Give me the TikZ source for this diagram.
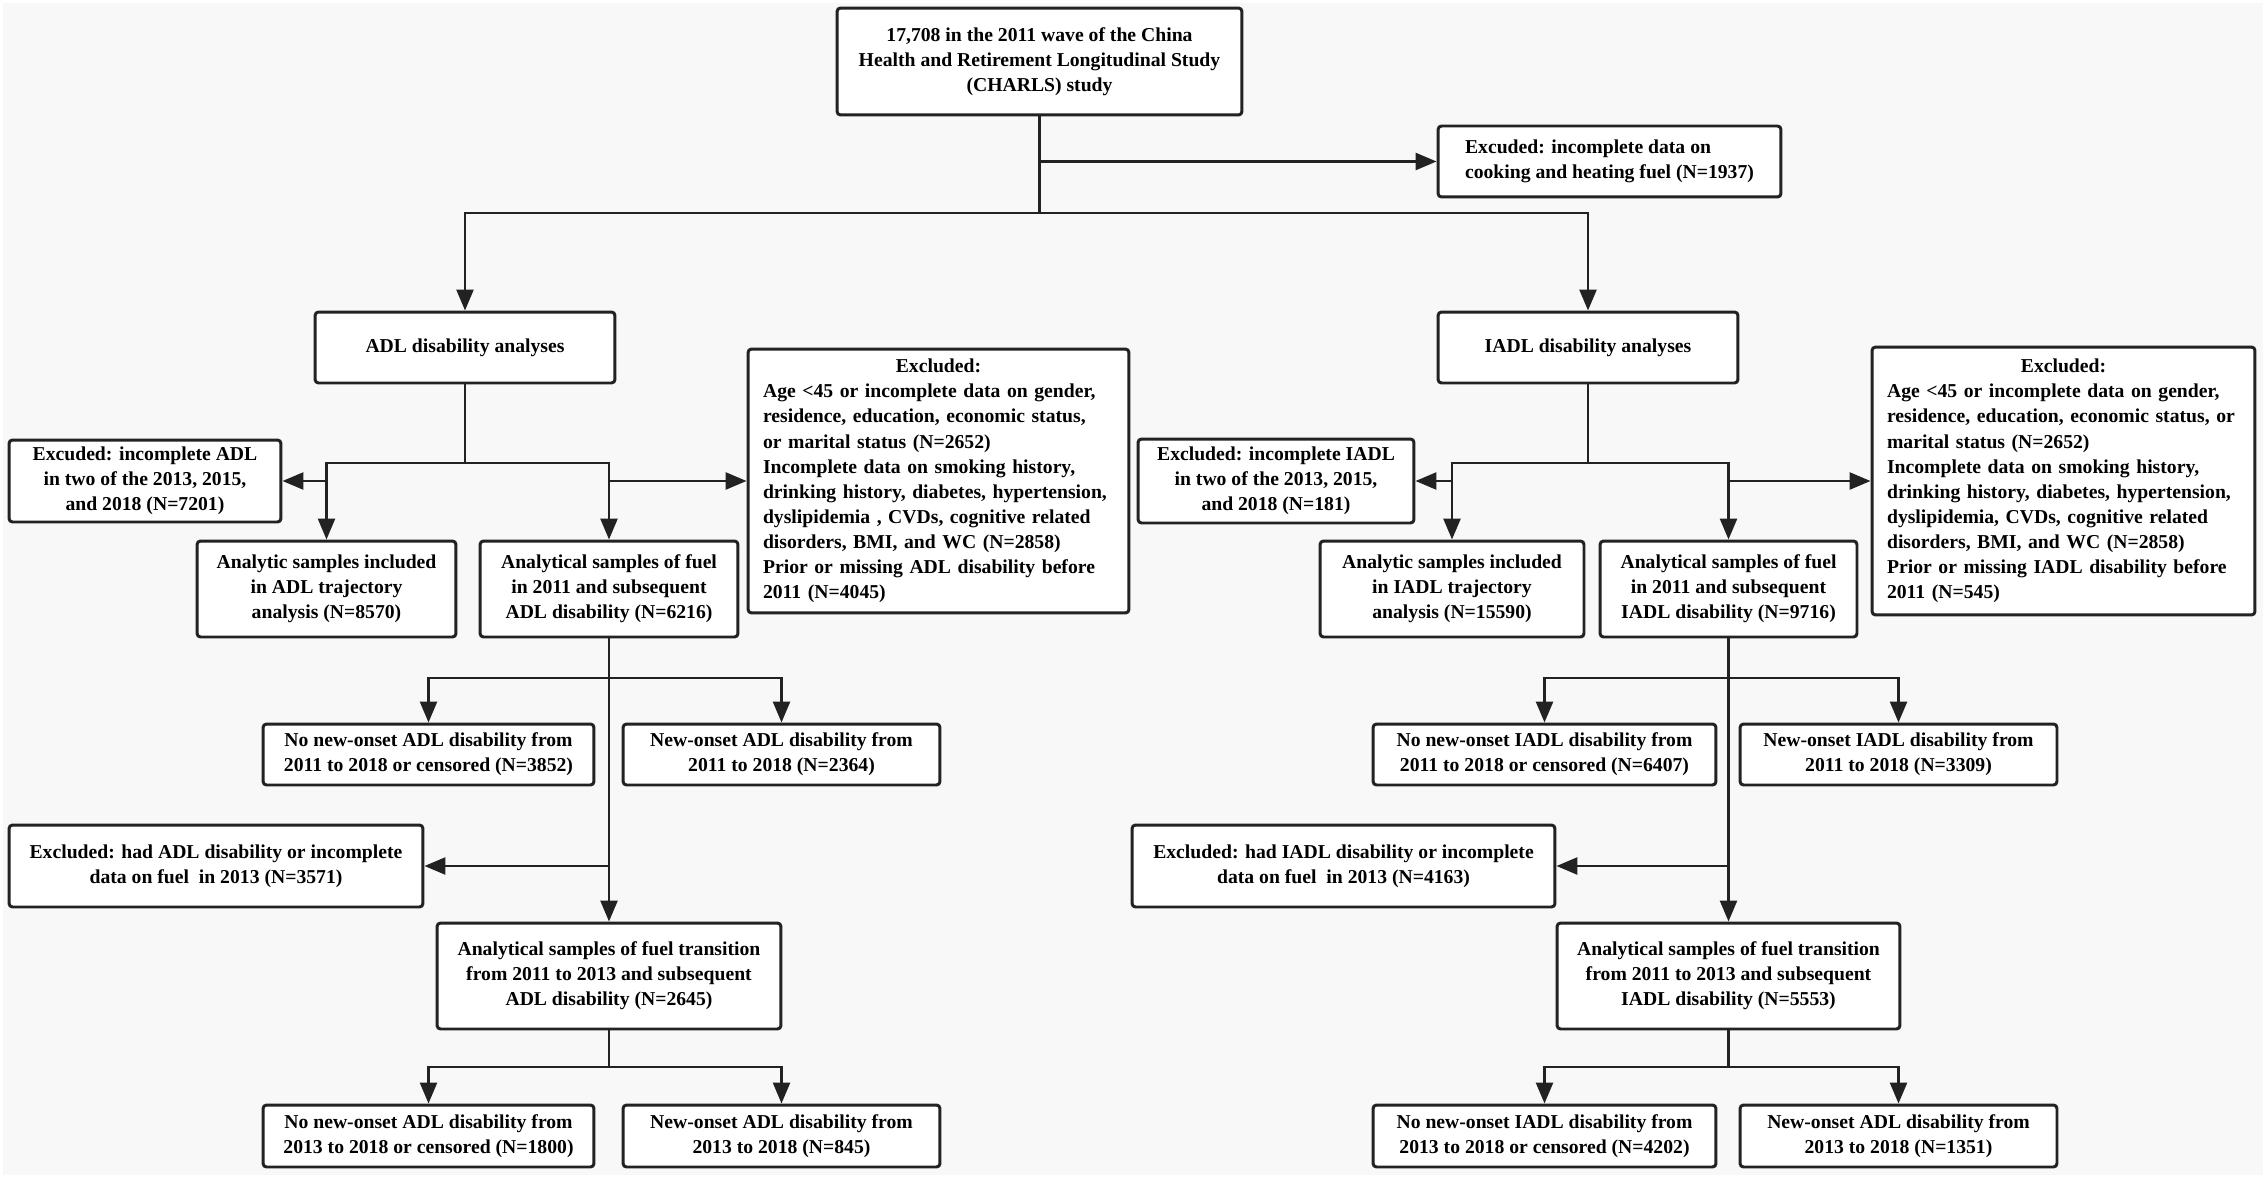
\documentclass[tikz,border=0pt]{standalone}
\usepackage{fontspec}
\setmainfont{Liberation Serif}
\usetikzlibrary{arrows.meta}
\definecolor{linegray}{HTML}{222222}
\definecolor{bggray}{HTML}{F8F8F8}

\begin{document}
\begin{tikzpicture}[x=0.02cm, y=-0.02cm,
    box/.style={rectangle, draw=linegray, fill=white, line width=1.7pt, rounded corners=2pt,
        inner sep=0pt, align=center, font=\fontsize{11.2}{14.3}\selectfont\bfseries},
    line/.style={draw=linegray, line width=1.5pt},
    arr/.style={line, -{Triangle[length=0.42cm, width=0.34cm]}}]
    \useasboundingbox (0, 0) rectangle (2268, 1179);
    \fill [white] (0, 0) rectangle (2268, 1179);
    \fill [bggray] (3, 3) rectangle (2263, 1175);

    \node (T) [box, minimum width=8.10cm, minimum height=2.14cm] at (1039.5, 61.5) {17,708 in the 2011 wave of the China\\Health and Retirement Longitudinal Study\\(CHARLS) study};
    \node (EF) [box, align=left, minimum width=6.86cm, minimum height=1.42cm] at (1609.5, 161.5) {Excuded: incomplete data on\\cooking and heating fuel (N=1937)};
    \node (A) [box, minimum width=6cm, minimum height=1.42cm] at (465, 347.5) {ADL disability analyses};
    \node (I) [box, minimum width=6cm, minimum height=1.42cm] at (1588, 347.5) {IADL disability analyses};

    \node (EA1) [box, minimum width=5.44cm, minimum height=1.64cm] at (145, 481) {Excuded: incomplete ADL\\in two of the 2013, 2015,\\and 2018 (N=7201)};
    \node (EA2) [box, align=left, text width=7.02cm, minimum width=7.62cm, minimum height=5.28cm] at (938.5, 481) {\makebox[\linewidth]{Excluded:}\\Age <45 or incomplete data on gender,\\residence, education, economic status,\\or marital status (N=2652)\\Incomplete data on smoking history,\\drinking history, diabetes, hypertension,\\dyslipidemia , CVDs, cognitive related\\disorders, BMI, and WC (N=2858)\\Prior or missing ADL disability before\\2011 (N=4045)};
    \node (A1) [box, minimum width=5.18cm, minimum height=1.92cm] at (326.5, 589) {Analytic samples included\\in ADL trajectory\\analysis (N=8570)};
    \node (A2) [box, minimum width=5.16cm, minimum height=1.92cm] at (609, 589) {Analytical samples of fuel\\in 2011 and subsequent\\ADL disability (N=6216)};
    \node (A3) [box, minimum width=6.62cm, minimum height=1.22cm] at (428.5, 754.5) {No new-onset ADL disability from\\2011 to 2018 or censored (N=3852)};
    \node (A4) [box, minimum width=6.34cm, minimum height=1.22cm] at (781.5, 754.5) {New-onset ADL disability from\\2011 to 2018 (N=2364)};
    \node (EA3) [box, minimum width=8.28cm, minimum height=1.64cm] at (216, 866) {Excluded: had ADL disability or incomplete\\data on fuel~ in 2013 (N=3571)};
    \node (A5) [box, minimum width=6.88cm, minimum height=2.12cm] at (609, 976) {Analytical samples of fuel transition\\from 2011 to 2013 and subsequent\\ADL disability (N=2645)};
    \node (A6) [box, minimum width=6.62cm, minimum height=1.24cm] at (428.5, 1136) {No new-onset ADL disability from\\2013 to 2018 or censored (N=1800)};
    \node (A7) [box, minimum width=6.34cm, minimum height=1.24cm] at (781.5, 1136) {New-onset ADL disability from\\2013 to 2018 (N=845)};

    \node (EI1) [box, minimum width=5.52cm, minimum height=1.68cm] at (1276, 481) {Excluded: incomplete IADL\\in two of the 2013, 2015,\\and 2018 (N=181)};
    \node (EI2) [box, align=left, text width=7.06cm, minimum width=7.66cm, minimum height=5.36cm] at (2063.5, 481) {\makebox[\linewidth]{Excluded:}\\Age <45 or incomplete data on gender,\\residence, education, economic status, or\\marital status (N=2652)\\Incomplete data on smoking history,\\drinking history, diabetes, hypertension,\\dyslipidemia, CVDs, cognitive related\\disorders, BMI, and WC (N=2858)\\Prior or missing IADL disability before\\2011 (N=545)};
    \node (I1) [box, minimum width=5.28cm, minimum height=1.92cm] at (1452, 589) {Analytic samples included\\in IADL trajectory\\analysis (N=15590)};
    \node (I2) [box, minimum width=5.14cm, minimum height=1.92cm] at (1728.5, 589) {Analytical samples of fuel\\in 2011 and subsequent\\IADL disability (N=9716)};
    \node (I3) [box, minimum width=6.86cm, minimum height=1.22cm] at (1544.5, 754.5) {No new-onset IADL disability from\\2011 to 2018 or censored (N=6407)};
    \node (I4) [box, minimum width=6.34cm, minimum height=1.22cm] at (1898.5, 754.5) {New-onset IADL disability from\\2011 to 2018 (N=3309)};
    \node (EI3) [box, minimum width=8.46cm, minimum height=1.64cm] at (1343.5, 866) {Excluded: had IADL disability or incomplete\\data on fuel~ in 2013 (N=4163)};
    \node (I5) [box, minimum width=6.86cm, minimum height=2.12cm] at (1728.5, 976) {Analytical samples of fuel transition\\from 2011 to 2013 and subsequent\\IADL disability (N=5553)};
    \node (I6) [box, minimum width=6.86cm, minimum height=1.24cm] at (1544.5, 1136) {No new-onset IADL disability from\\2013 to 2018 or censored (N=4202)};
    \node (I7) [box, minimum width=6.34cm, minimum height=1.24cm] at (1898.5, 1136) {New-onset ADL disability from\\2013 to 2018 (N=1351)};

    \coordinate (s0) at (1039.5, 213);
    \draw [line] (T.south) -- (s0);
    \draw [arr] (T.south |- EF.west) -- (EF.west);
    \draw [arr] (s0) -| (A.north);
    \draw [arr] (s0) -| (I.north);

    \coordinate (a0) at (465, 463);
    \coordinate (a1) at (609, 678);
    \coordinate (a2) at (609, 1067);
    \draw [line] (A.south) -- (a0);
    \draw [arr] (a0) -| (A1.north);
    \draw [arr] (a0) -| (A2.north);
    \draw [arr] (A1.north |- EA1.east) -- (EA1.east);
    \draw [arr] (A2.north |- EA2.west) -- (EA2.west);
    \draw [arr] (A2.south) -- (A5.north);
    \draw [arr] (a1) -| (A3.north);
    \draw [arr] (a1) -| (A4.north);
    \draw [arr] (A5.north |- EA3.east) -- (EA3.east);
    \draw [line] (A5.south) -- (a2);
    \draw [arr] (a2) -| (A6.north);
    \draw [arr] (a2) -| (A7.north);

    \coordinate (i0) at (1588, 463);
    \coordinate (i1) at (1728.5, 678);
    \coordinate (i2) at (1728.5, 1067);
    \draw [line] (I.south) -- (i0);
    \draw [arr] (i0) -| (I1.north);
    \draw [arr] (i0) -| (I2.north);
    \draw [arr] (I1.north |- EI1.east) -- (EI1.east);
    \draw [arr] (I2.north |- EI2.west) -- (EI2.west);
    \draw [arr] (I2.south) -- (I5.north);
    \draw [arr] (i1) -| (I3.north);
    \draw [arr] (i1) -| (I4.north);
    \draw [arr] (I5.north |- EI3.east) -- (EI3.east);
    \draw [line] (I5.south) -- (i2);
    \draw [arr] (i2) -| (I6.north);
    \draw [arr] (i2) -| (I7.north);
\end{tikzpicture}
\end{document}
